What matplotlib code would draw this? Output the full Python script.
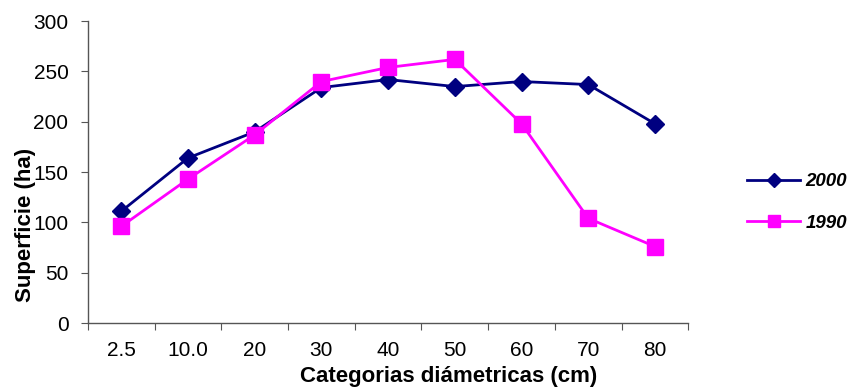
import matplotlib
matplotlib.use("Agg")
import matplotlib.pyplot as plt
import numpy as np

plt.rcParams['font.family'] = ['Liberation Sans', 'DejaVu Sans']

categories = ["2.5", "10.0", "20", "30", "40", "50", "60", "70", "80"]
s2000 = [111, 164, 190, 234, 242, 235, 240, 237, 198]
s1990 = [96, 143, 187, 240, 254, 262, 198, 104, 76]

fig = plt.figure(figsize=(8.53, 3.92), dpi=100)
ax = fig.add_axes([0.103, 0.176, 0.704, 0.770])

x = np.arange(len(categories))
ax.plot(x, s2000, color='#000080', lw=2, marker='D', ms=9, label='2000')
ax.plot(x, s1990, color='#FF00FF', lw=2, marker='s', ms=11, label='1990')

ax.set_xlim(-0.5, len(categories) - 0.5)
ax.set_ylim(0, 300)
ax.set_yticks(range(0, 301, 50))
ax.set_xticks(x)
ax.set_xticklabels(categories)
ax.set_xticks(np.arange(-0.5, len(categories), 1), minor=True)
ax.tick_params(axis='x', which='major', length=0, pad=13, labelsize=15)
ax.tick_params(axis='x', which='minor', length=5, direction='out', width=0.8, color='#555555')
ax.tick_params(axis='y', length=5, direction='out', width=0.8, labelsize=15, pad=9, color='#555555')
for s in ['top', 'right']:
    ax.spines[s].set_visible(False)
for s in ['left', 'bottom']:
    ax.spines[s].set_color('#555555')
    ax.spines[s].set_linewidth(1)

ax.set_xlabel('Categorias diámetricas (cm)', fontsize=16, fontweight='bold', labelpad=4, x=0.60)
ax.set_ylabel('Superficie (ha)', fontsize=16, fontweight='bold', labelpad=-2, y=0.325)

leg = ax.legend(loc='center left', bbox_to_anchor=(1.07, 0.40), frameon=False,
                prop={'size': 13.5, 'weight': 'bold', 'style': 'italic'},
                handlelength=2.8, handletextpad=0.3, labelspacing=1.3,
                markerscale=0.8)

fig.savefig('out.png', dpi=100)
